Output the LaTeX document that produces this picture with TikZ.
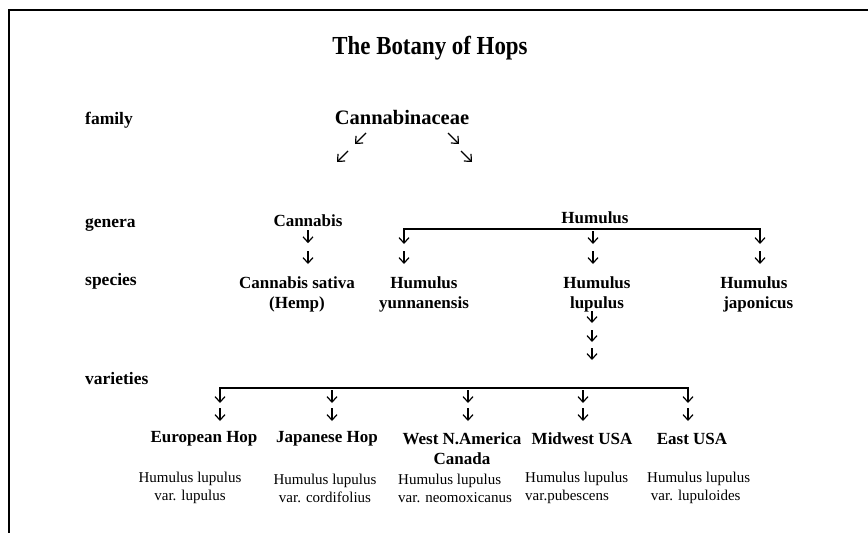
\documentclass[tikz,border=0pt]{standalone}
\usepackage{fontspec}
\setmainfont{Liberation Serif}
\usetikzlibrary{arrows.meta}
\tikzset{
	rank/.style={font=\fontsize{17.5}{20}\selectfont\bfseries, anchor=west, inner sep=0pt},
	taxon/.style={font=\fontsize{17}{20}\selectfont\bfseries, align=center, inner sep=0pt},
	latin/.style={font=\fontsize{15}{18}\selectfont, inner sep=0pt},
	dn/.style={line width=1.2pt, -{Straight Barb[length=5.5pt,width=10pt,line width=1.2pt]}},
}
\begin{document}
\begin{tikzpicture}[x=1pt,y=-1pt]
	\useasboundingbox (0,0) rectangle (868,533);
	\fill[white] (0,0) rectangle (868,533);
	\draw[line width=1.6pt] (9,533) -- (9,10) -- (868,10);
	\node[font=\fontsize{26}{30}\selectfont\bfseries] (title) at (430,48) {\scalebox{0.88}[1]{The Botany of Hops}};
	% ranks on the left
	\node[rank] (family) at (85,120) {family};
	\node[rank] (genera) at (85,225) {genera};
	\node[rank] (species) at (85,281) {species};
	\node[rank] (varieties) at (85,379) {varieties};
	% family
	\node[taxon, font=\fontsize{20.5}{24}\selectfont\bfseries] (cannabinaceae) at (402,117) {Cannabinaceae};
	\draw[dn] (366,133) -- (355,144);
	\draw[dn] (348,151) -- (337,162);
	\draw[dn] (448,133) -- (459,144);
	\draw[dn] (461,151) -- (472,162);
	% genera
	\node[taxon] (cannabis) at (308,221) {Cannabis};
	\node[taxon] (humulus) at (595,218) {Humulus};
	% species
	\node[taxon] (sativa) at (297,294) {Cannabis sativa\\(Hemp)};
	\node[taxon] (yunnanensis) at (424,294) {Humulus\\yunnanensis};
	\node[taxon] (lupulus) at (597,294) {Humulus\\lupulus};
	\node[taxon] (japonicus) at (754,294) {Humulus\\\ \ japonicus};
	\draw[dn] (cannabis.south) ++(0,3) -- ++(0,13);
	\draw[dn] (308,251) -- (308,264);
	\draw[line width=1.4pt] (404,233) -- (404,229) -- (760,229) -- (760,233);
	\foreach \x in {404,593,760} {
		\draw[dn] (\x,231) -- (\x,244);
		\draw[dn] (\x,251) -- (\x,264);
	}
	\foreach \y in {311,330,348} \draw[dn] (592,\y) -- (592,\y+12);
	% varieties
	\draw[line width=1.4pt] (220,392) -- (220,388) -- (688,388) -- (688,392);
	\foreach \x in {220,332,468,583,688} {
		\draw[dn] (\x,390) -- (\x,403);
		\draw[dn] (\x,408) -- (\x,421);
	}
	\node[taxon] (european) at (204,439) {European Hop};
	\node[taxon] (japanese) at (327,439) {Japanese Hop};
	\node[taxon] (westam) at (462,449) {West N.America\\Canada};
	\node[taxon] (midwest) at (582,439) {Midwest USA};
	\node[taxon] (eastusa) at (692,439) {East USA};
	\node[latin, align=center] (lupuluslat) at (190,488) {Humulus lupulus\\var. lupulus};
	\node[latin, align=center] (cordifolius) at (325,488) {Humulus lupulus\\var. cordifolius};
	\node[latin, align=left, anchor=west] (neomoxicanus) at (398,488) {Humulus lupulus\\var. neomoxicanus};
	\node[latin, align=left, anchor=west] (pubescens) at (525,488) {Humulus lupulus\\var.pubescens};
	\node[latin, align=left, anchor=west] (lupuloides) at (647,488) {Humulus lupulus\\\ var. lupuloides};
\end{tikzpicture}
\end{document}
